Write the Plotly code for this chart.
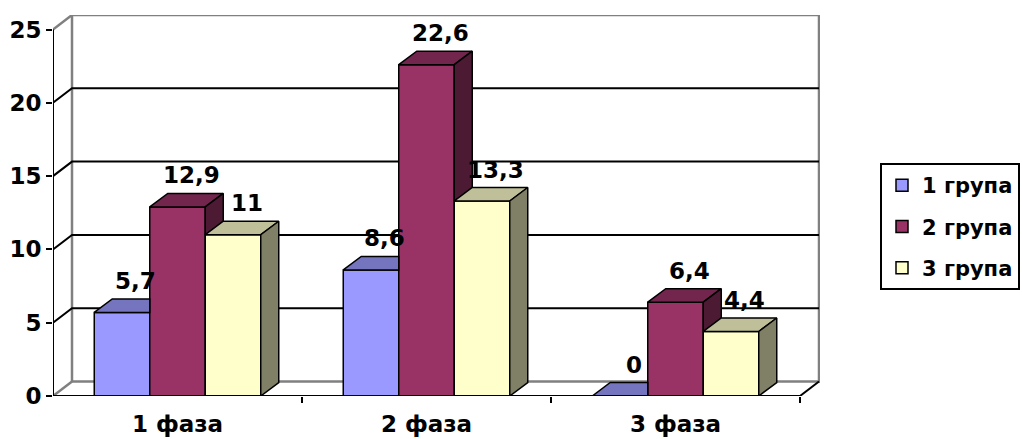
import plotly.graph_objects as go

# ---------------- data ----------------
categories = ["1 фаза", "2 фаза", "3 фаза"]
series_names = ["1 група", "2 група", "3 група"]
group_1 = [5.7, 8.6, 0]
group_2 = [12.9, 22.6, 6.4]
group_3 = [11, 13.3, 4.4]
y_tick_values = [0, 5, 10, 15, 20, 25]

series_values = [group_1, group_2, group_3]

# ---------------- style ----------------
front_colors = ["#9999FF", "#993366", "#FFFFCC"]
top_colors = ["#7575BF", "#73264D", "#BFBF99"]
side_colors = ["#4D4D80", "#4D1A33", "#808066"]
FONT = dict(family="DejaVu Sans", size=23, color="black", weight="bold")
LEGEND_FONT = dict(family="DejaVu Sans", size=21, color="black", weight="bold")

W, H = 1022, 439
ML, MR, MT, MB = 53, 202, 15, 43
PX_PER_CAT = 249.0
PX_PER_UNIT = 14.66
X_RANGE = [-0.5, -0.5 + (W - ML - MR) / PX_PER_CAT]
Y_RANGE = [0, (H - MT - MB) / PX_PER_UNIT]

# depth of the "3D" box (wall) and of the bars, in data units
DXW, DYW = 19 / PX_PER_CAT, 14.5 / PX_PER_UNIT
DXB, DYB = 18 / PX_PER_CAT, 13.5 / PX_PER_UNIT
BAR_W = 55.5 / PX_PER_CAT
Y_MAX = max(y_tick_values)
X_LO, X_HI = -0.5, len(categories) - 0.5

fig = go.Figure()

# front faces of the bars
for i, name in enumerate(series_names):
    fig.add_trace(go.Bar(
        x=list(range(len(categories))),
        y=series_values[i],
        name=name,
        width=BAR_W,
        offset=-1.5 * BAR_W + i * BAR_W,
        marker=dict(color=front_colors[i], line=dict(color="black", width=1.5)),
        legendgroup=name,
        hoverinfo="skip",
    ))


def poly(points, color):
    xs = [p[0] for p in points] + [points[0][0]]
    ys = [p[1] for p in points] + [points[0][1]]
    fig.add_trace(go.Scatter(
        x=xs, y=ys, mode="lines", fill="toself", fillcolor=color,
        line=dict(color="black", width=1.5), showlegend=False,
        hoverinfo="skip",
    ))


# top and side faces (painter order: left to right)
for c in range(len(categories)):
    for i in range(len(series_names)):
        v = series_values[i][c]
        xl = c - 1.5 * BAR_W + i * BAR_W
        xr = xl + BAR_W
        nxt = series_values[i + 1][c] if i + 1 < len(series_names) else None
        if nxt is not None and nxt >= v:
            poly([(xl, v), (xr, v), (xr, v + DYB), (xl + DXB, v + DYB)], top_colors[i])
        else:
            poly([(xl, v), (xr, v), (xr + DXB, v + DYB), (xl + DXB, v + DYB)], top_colors[i])
            lo = nxt if nxt is not None else 0
            poly([(xr, lo), (xr + DXB, lo + DYB), (xr + DXB, v + DYB), (xr, v)], side_colors[i])

# data labels
for c in range(len(categories)):
    for i in range(len(series_names)):
        v = series_values[i][c]
        xc = c - 1.5 * BAR_W + (i + 0.5) * BAR_W
        fig.add_annotation(
            x=xc + DXB * 0.75, y=v + DYB, text=f"{v:g}".replace(".", ","),
            showarrow=False, font=FONT, yanchor="middle", yshift=18,
        )

# walls, floor and gridlines
shapes = []
gray = dict(color="#808080", width=2.5)
black = dict(color="black", width=2)
shapes.append(dict(type="rect", x0=X_LO + DXW, x1=X_HI + DXW, y0=DYW, y1=Y_MAX + DYW,
                   line=gray, fillcolor="white", layer="below"))
shapes.append(dict(type="line", x0=X_LO, y0=Y_MAX, x1=X_LO + DXW, y1=Y_MAX + DYW, line=gray, layer="below"))
shapes.append(dict(type="line", x0=X_LO, y0=0, x1=X_LO + DXW, y1=DYW, line=gray, layer="below"))
for t in y_tick_values[1:-1]:
    shapes.append(dict(type="path",
                       path=f"M {X_LO},{t} L {X_LO + DXW},{t + DYW} L {X_HI + DXW},{t + DYW}",
                       line=black, layer="below"))
shapes.append(dict(type="line", x0=X_HI, y0=0, x1=X_HI + DXW, y1=DYW, line=black, layer="below"))
shapes.append(dict(type="line", x0=X_LO, y0=0, x1=X_HI, y1=0, line=black, layer="above"))
shapes.append(dict(type="line", x0=X_LO, y0=0, x1=X_LO, y1=Y_MAX, line=black, layer="above"))

fig.update_layout(
    width=W, height=H,
    margin=dict(l=ML, r=MR, t=MT, b=MB, pad=0, autoexpand=False),
    paper_bgcolor="white", plot_bgcolor="white",
    barmode="overlay",
    shapes=shapes,
    font=FONT,
    showlegend=True,
    legend=dict(
        x=(880 - ML) / (W - ML - MR), y=(H - MB - 163) / (H - MT - MB),
        xanchor="left", yanchor="top",
        bordercolor="black", borderwidth=2, bgcolor="white",
        font=LEGEND_FONT, traceorder="grouped", tracegroupgap=11,
        itemclick=False, itemdoubleclick=False,
    ),
    xaxis=dict(
        range=X_RANGE, showgrid=False, zeroline=False, showline=False,
        tickmode="array", tickvals=list(range(len(categories))), ticktext=categories,
        ticks="", ticklabelstandoff=12, tickfont=FONT,
        minor=dict(tickmode="array", tickvals=[k + 0.5 for k in range(len(categories))],
                   ticks="outside", ticklen=6, tickwidth=2, tickcolor="black", showgrid=False),
        fixedrange=True,
    ),
    yaxis=dict(
        range=Y_RANGE, showgrid=False, zeroline=False, showline=False,
        tickmode="array", tickvals=y_tick_values, ticks="outside", ticklen=6,
        tickwidth=2, tickcolor="black", tickfont=FONT, fixedrange=True,
    ),
)

fig.write_html("out.html")
